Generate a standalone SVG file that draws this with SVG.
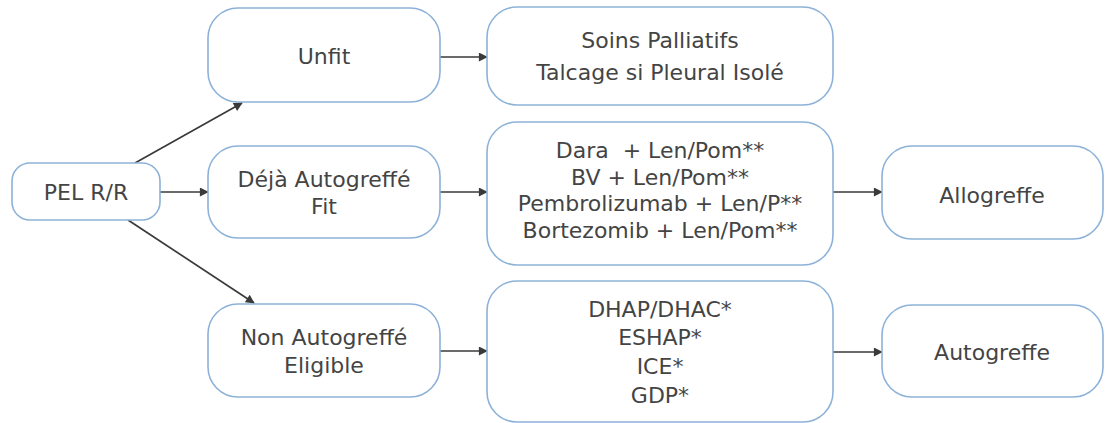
<svg xmlns="http://www.w3.org/2000/svg" width="1107" height="423" viewBox="0 0 1107 423">
<defs>
<style>
.box{fill:#ffffff;stroke:#8db2d8;stroke-width:1.6}
.t{font-family:"DejaVu Sans","Liberation Sans",sans-serif;font-size:22px;fill:#444444;text-anchor:middle}
.c{stroke:#3a3a3a;stroke-width:1.7;fill:none;marker-end:url(#ah)}
</style>
<marker id="ah" viewBox="0 0 10 10" refX="9" refY="5" markerWidth="10" markerHeight="9" markerUnits="userSpaceOnUse" orient="auto">
<path d="M0,0 L10,5 L0,10 z" fill="#3a3a3a"/>
</marker>
</defs>
<rect width="1107" height="423" fill="#ffffff"/>
<g id="connectors">
<line class="c" x1="135" y1="163" x2="242" y2="103"/>
<line class="c" x1="160" y1="192" x2="208" y2="192"/>
<line class="c" x1="128" y1="220" x2="254" y2="303"/>
<line class="c" x1="440" y1="57" x2="487" y2="57"/>
<line class="c" x1="440" y1="192" x2="487" y2="192"/>
<line class="c" x1="440" y1="351" x2="487" y2="351"/>
<line class="c" x1="833" y1="192" x2="882" y2="192"/>
<line class="c" x1="833" y1="352" x2="882" y2="352"/>
</g>
<g id="pel">
<rect class="box" x="12" y="163" width="148" height="57" rx="18"/>
<text class="t" x="86" y="200">PEL R/R</text>
</g>
<g id="unfit">
<rect class="box" x="208" y="8" width="232" height="94" rx="30"/>
<text class="t" x="324" y="64">Unfit</text>
</g>
<g id="deja">
<rect class="box" x="208" y="146" width="232" height="92" rx="30"/>
<text class="t" x="324" y="187">Déjà Autogreffé</text>
<text class="t" x="324" y="214">Fit</text>
</g>
<g id="non">
<rect class="box" x="208" y="304" width="232" height="93" rx="30"/>
<text class="t" x="324" y="345">Non Autogreffé</text>
<text class="t" x="324" y="373">Eligible</text>
</g>
<g id="soins">
<rect class="box" x="487" y="7" width="346" height="98" rx="30"/>
<text class="t" x="660" y="48">Soins Palliatifs</text>
<text class="t" x="660" y="80">Talcage si Pleural Isolé</text>
</g>
<g id="dara">
<rect class="box" x="487" y="122" width="346" height="143" rx="30"/>
<text class="t" x="660" y="158" xml:space="preserve">Dara  + Len/Pom**</text>
<text class="t" x="660" y="185">BV + Len/Pom**</text>
<text class="t" x="660" y="211">Pembrolizumab + Len/P**</text>
<text class="t" x="660" y="238">Bortezomib + Len/Pom**</text>
</g>
<g id="dhap">
<rect class="box" x="487" y="281" width="346" height="141" rx="30"/>
<text class="t" x="660" y="317">DHAP/DHAC*</text>
<text class="t" x="660" y="345">ESHAP*</text>
<text class="t" x="660" y="374">ICE*</text>
<text class="t" x="660" y="403">GDP*</text>
</g>
<g id="allo">
<rect class="box" x="882" y="146" width="221" height="93" rx="30"/>
<text class="t" x="992" y="203">Allogreffe</text>
</g>
<g id="auto">
<rect class="box" x="882" y="305" width="221" height="92" rx="30"/>
<text class="t" x="992" y="360">Autogreffe</text>
</g>
</svg>
